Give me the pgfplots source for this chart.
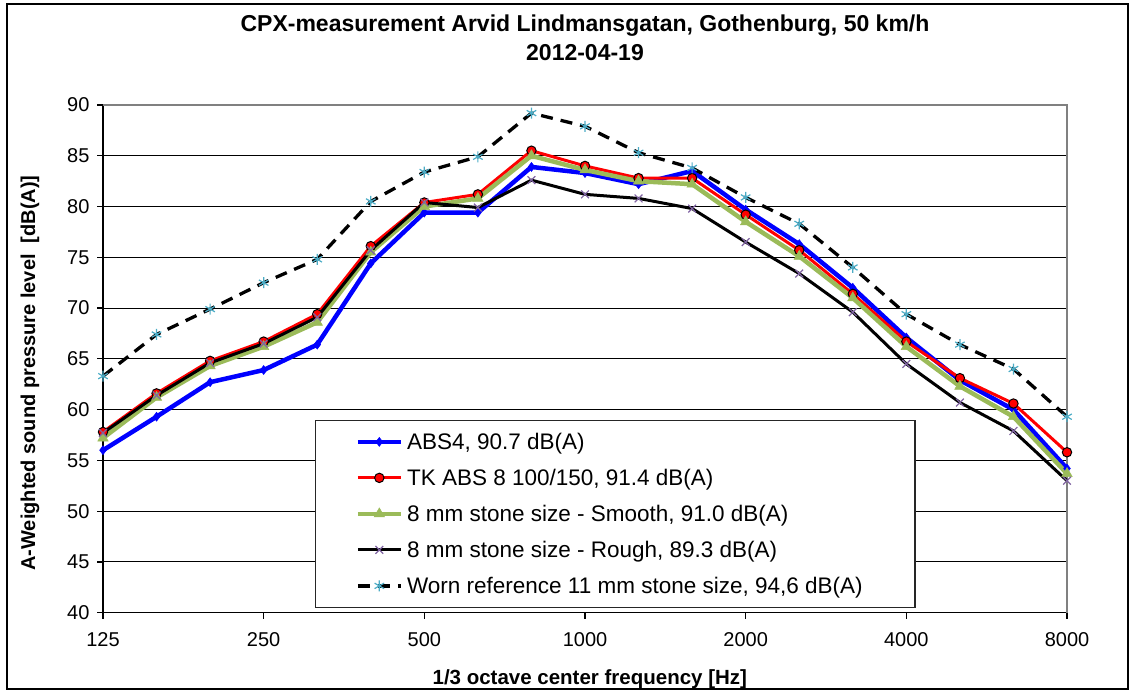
\documentclass[border=0pt]{standalone}
\usepackage{fontspec}
\setmainfont{Liberation Sans}
\usepackage{pgfplots}
\pgfplotsset{compat=1.18}
\usetikzlibrary{plotmarks}
\definecolor{absblue}{RGB}{0,0,255}
\definecolor{tkred}{RGB}{255,0,0}
\definecolor{smgreen}{RGB}{155,187,89}
\definecolor{rgpurple}{RGB}{128,100,162}
\definecolor{wnblue}{RGB}{75,172,198}
\begin{document}
\begin{tikzpicture}[x=1pt,y=1pt]
\path[use as bounding box] (0,0) rectangle (1134,693);
\draw[black, line width=1.3pt] (7,4) rectangle (1128,689);
\node[font=\fontsize{23}{29}\selectfont\bfseries, align=center] at (585,655.5)
  {CPX-measurement Arvid Lindmansgatan, Gothenburg, 50 km/h\\2012-04-19};
\begin{axis}[
  at={(103pt,80.3pt)}, anchor=south west,
  scale only axis, width=964pt, height=507.7pt,
  xmin=0, xmax=18, ymin=40, ymax=90,
  axis x line*=bottom, axis y line*=left,
  axis line style={black, line width=1.5pt, -},
  xtick={0,3,6,9,12,15,18},
  xticklabels={125,250,500,1000,2000,4000,8000},
  ytick={40,45,...,90},
  tick align=outside, major tick length=6pt,
  tick style={black, line width=1.2pt},
  ymajorgrids, grid style={black, line width=1pt},
  ticklabel style={font=\fontsize{20}{24}\selectfont},
  xticklabel style={yshift=-10pt},
  yticklabel style={xshift=-4pt},
  /pgf/number format/assume math mode=true,
  xlabel={1/3 octave center frequency [Hz]},
  ylabel={A-Weighted sound pressure level\ \ [dB(A)]},
  xlabel style={font=\fontsize{20.5}{24}\selectfont\bfseries, at={(axis description cs:0.505,-0.13)}, anchor=center},
  ylabel style={font=\fontsize{20}{24}\selectfont\bfseries, at={(axis description cs:-0.0757,0.472)}, anchor=center, rotate=0},
  clip=false,
  legend cell align=left,
  legend image code/.code={\draw[mark repeat=2,mark phase=2,#1] plot coordinates {(0pt,0pt) (21.5pt,0pt) (43pt,0pt)};},
  legend style={at={(axis description cs:0.2199,0.0093)}, anchor=south west,
    draw=black!85, line width=1.2pt, fill=white,
    inner xsep=40pt, inner ysep=3.5pt,
    font=\fontsize{22.5}{27}\selectfont,
    column sep=4pt, row sep=0pt,
    nodes={inner sep=0pt, minimum height=36pt}},
]
\draw[black!50, line width=1.5pt] (rel axis cs:0,1) -- (rel axis cs:1,1) -- (rel axis cs:1,0);
\addplot[absblue, line width=4.5pt, mark=diamond*, mark size=4.5pt, mark options={fill=absblue, draw=absblue, line width=0.5pt}]
  coordinates {(0,56.0) (1,59.3) (2,62.7) (3,63.9) (4,66.4) (5,74.4) (6,79.4) (7,79.4) (8,83.9) (9,83.3) (10,82.2) (11,83.5) (12,79.7) (13,76.3) (14,72.0) (15,67.1) (16,62.9) (17,60.0) (18,54.2)};
\addlegendentry{\makebox[468pt][l]{ABS4, 90.7 dB(A)}}
\addplot[tkred, line width=3pt, mark=*, mark size=4.7pt, mark options={fill=tkred, draw=black, line width=1pt}]
  coordinates {(0,57.8) (1,61.6) (2,64.8) (3,66.7) (4,69.4) (5,76.1) (6,80.4) (7,81.2) (8,85.5) (9,84.0) (10,82.8) (11,82.8) (12,79.2) (13,75.7) (14,71.4) (15,66.7) (16,63.1) (17,60.6) (18,55.8)};
\addlegendentry{TK ABS 8 100/150, 91.4 dB(A)}
\addplot[smgreen, line width=4.5pt, mark=triangle*, mark size=6pt, mark options={fill=smgreen, draw=smgreen, line width=0.5pt}]
  coordinates {(0,57.2) (1,61.2) (2,64.3) (3,66.2) (4,68.6) (5,75.5) (6,80.0) (7,80.8) (8,85.0) (9,83.6) (10,82.5) (11,82.2) (12,78.5) (13,75.1) (14,71.0) (15,66.2) (16,62.3) (17,59.3) (18,53.7)};
\addlegendentry{8 mm stone size - Smooth, 91.0 dB(A)}
\addplot[black, line width=3pt, mark=x, mark size=5.5pt, mark options={draw=rgpurple, line width=1.2pt}]
  coordinates {(0,57.7) (1,61.4) (2,64.6) (3,66.5) (4,69.1) (5,75.7) (6,80.4) (7,79.9) (8,82.6) (9,81.2) (10,80.8) (11,79.8) (12,76.5) (13,73.4) (14,69.6) (15,64.5) (16,60.7) (17,57.9) (18,53.0)};
\addlegendentry{8 mm stone size - Rough, 89.3 dB(A)}
\addplot[black, line width=3.3pt, dash pattern=on 12pt off 8pt, mark=asterisk, mark size=5.5pt, mark options={solid, draw=wnblue, line width=1.2pt}]
  coordinates {(0,63.3) (1,67.4) (2,69.9) (3,72.5) (4,74.8) (5,80.5) (6,83.4) (7,84.9) (8,89.2) (9,87.9) (10,85.3) (11,83.8) (12,80.9) (13,78.3) (14,74.0) (15,69.4) (16,66.4) (17,64.0) (18,59.3)};
\addlegendentry{Worn reference 11 mm stone size, 94,6 dB(A)}
\end{axis}
\end{tikzpicture}
\end{document}
